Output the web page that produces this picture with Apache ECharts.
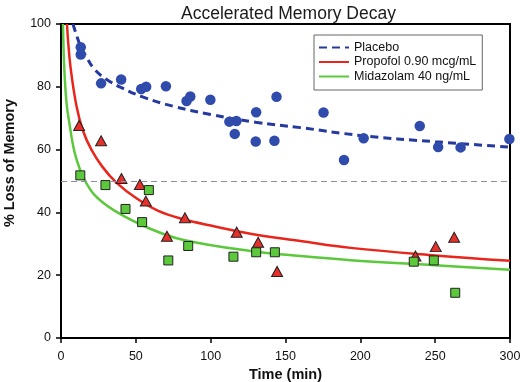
<!DOCTYPE html>
<html>
<head>
<meta charset="utf-8">
<script src="https://cdn.jsdelivr.net/npm/echarts@6/dist/echarts.min.js"></script>
<style>html,body{margin:0;padding:0;background:#fff}#c{width:520px;height:382px}</style>
</head>
<body>
<div id="c"></div>
<script>
// Observed data (time in min, % loss of memory)
var placeboT = [13.2, 13.2, 26.8, 40.2, 53.6, 56.9, 70.1, 83.9, 86.4, 99.8, 112.5, 117.2, 116.1, 130.4, 130.1, 142.6, 144.0, 175.4, 189.1, 202.2, 239.7, 252.0, 267.0, 299.6];
var placeboV = [92.6, 90.3, 81.1, 82.3, 79.3, 80.0, 80.2, 75.5, 76.9, 75.9, 68.9, 69.1, 65.0, 71.9, 62.6, 62.8, 76.8, 71.8, 56.7, 63.6, 67.5, 60.8, 60.7, 63.4];
var propofolT = [12.1, 26.8, 40.4, 52.7, 56.7, 70.8, 82.8, 117.4, 131.7, 144.4, 236.8, 250.4, 262.7];
var propofolV = [67.7, 62.8, 50.8, 48.9, 43.6, 32.4, 38.3, 33.7, 30.5, 21.2, 26.1, 29.1, 32.1];
var midazolamT = [12.9, 29.7, 58.7, 43.1, 54.2, 71.7, 85.0, 115.2, 130.4, 142.9, 235.7, 249.1, 263.4];
var midazolamV = [51.8, 48.7, 47.1, 41.1, 36.9, 24.7, 29.3, 25.9, 27.3, 27.3, 24.3, 24.7, 14.4];

// Fitted curves
var placeboFitT = [8, 10, 13, 17, 22.5, 30, 40, 55, 75, 100, 130, 160, 200, 250, 300];
var placeboFitV = [100, 97, 93, 89.5, 85.5, 82.5, 79.8, 76.7, 73.8, 71.2, 68.7, 67, 64.5, 62.5, 60.8];
var propofolFitT = [4, 5, 6.7, 10.3, 14.7, 20.3, 27.7, 37, 50.4, 65, 82, 100, 126.6, 160, 193.5, 250, 300];
var propofolFitV = [100, 93, 85, 74, 66, 60, 54.5, 49.5, 44.5, 40.5, 37.8, 35.8, 33.2, 30.9, 28.7, 26.3, 24.6];
var midazolamFitT = [1.3, 2, 3, 4, 5.4, 8, 10, 14.7, 22.5, 36, 59.6, 82, 126.6, 160, 193.5, 250, 300];
var midazolamFitV = [100, 88, 79, 73.5, 69, 61.5, 57.5, 51.4, 45.5, 40.5, 34.8, 31.2, 27.7, 26.1, 24.8, 23.2, 21.7];

var refLineY = 50;
var xTicks = [0, 50, 100, 150, 200, 250, 300];
var yTicks = [0, 20, 40, 60, 80, 100];

function pairs(t, v) { return t.map(function (x, i) { return [x, v[i]]; }); }

var FONT = 'Liberation Sans, Arial, sans-serif';
var chart = echarts.init(document.getElementById('c'), null, {renderer: 'canvas'});
chart.setOption({
  animation: false,
  backgroundColor: '#fff',
  title: {
    text: 'Accelerated Memory Decay',
    left: 176, top: 0,
    textStyle: {fontFamily: FONT, fontSize: 17.5, fontWeight: 'normal', color: '#1a1a1a'}
  },
  grid: {left: 61, right: 10, top: 24, bottom: 44, show: true, borderColor: '#000', borderWidth: 2,
    containLabel: false, outerBoundsMode: 'none'},
  legend: {
    orient: 'vertical', left: 314, top: 35,
    borderColor: '#666', borderWidth: 1, padding: [6, 6, 7, 4],
    itemWidth: 30, itemHeight: 14, itemGap: 1.5, itemTextGap: 7,
    itemStyle: {opacity: 0},
    data: ['Placebo', 'Propofol 0.90 mcg/mL', 'Midazolam 40 ng/mL'],
    textStyle: {fontFamily: FONT, fontSize: 12.5, color: '#111'}
  },
  xAxis: {
    type: 'value', min: xTicks[0], max: xTicks[xTicks.length - 1], interval: 50,
    name: 'Time (min)', nameLocation: 'middle', nameGap: 16,
    nameTextStyle: {fontFamily: FONT, fontSize: 14.5, fontWeight: 'bold', color: '#111'},
    axisLine: {lineStyle: {color: '#000', width: 2}},
    axisTick: {length: 5, lineStyle: {color: '#000', width: 1.5}},
    axisLabel: {fontFamily: FONT, fontSize: 12.5, color: '#111', margin: 12},
    splitLine: {show: false}
  },
  yAxis: {
    type: 'value', min: yTicks[0], max: yTicks[yTicks.length - 1], interval: 20,
    axisLine: {show: true, lineStyle: {color: '#000', width: 2}},
    axisTick: {show: true, length: 5, lineStyle: {color: '#000', width: 1.5}},
    axisLabel: {fontFamily: FONT, fontSize: 12.5, color: '#111', margin: 10},
    splitLine: {show: false}
  },
  graphic: [{
    type: 'text', x: 10, y: 163, rotation: Math.PI / 2,
    style: {text: '% Loss of Memory', fontFamily: FONT, fontSize: 14.5, fontWeight: 'bold',
      fill: '#111', textAlign: 'center', textVerticalAlign: 'middle'}
  }],
  series: [
    {
      name: 'ref', type: 'line', silent: true, symbol: 'none', data: [],
      markLine: {silent: true, symbol: 'none', label: {show: false},
        lineStyle: {color: '#8c8ca6', width: 1, type: [6, 4]},
        data: [{yAxis: refLineY}]}, z: 1
    },
    {
      name: 'Placebo', type: 'line', smooth: 0.4, symbol: 'none', clip: true,
      data: pairs(placeboFitT, placeboFitV),
      lineStyle: {color: '#25399e', width: 3, type: [8, 5]}, itemStyle: {color: '#25399e'}, z: 2
    },
    {
      name: 'Propofol 0.90 mcg/mL', type: 'line', smooth: 0.4, symbol: 'none', clip: true,
      data: pairs(propofolFitT, propofolFitV),
      lineStyle: {color: '#e8261c', width: 2.5}, itemStyle: {color: '#e8261c'}, z: 2
    },
    {
      name: 'Midazolam 40 ng/mL', type: 'line', smooth: 0.4, symbol: 'none', clip: true,
      data: pairs(midazolamFitT, midazolamFitV),
      lineStyle: {color: '#5cc83c', width: 2.5}, itemStyle: {color: '#5cc83c'}, z: 2
    },
    {
      name: 'placeboPts', type: 'scatter', symbol: 'circle', symbolSize: 10.5,
      data: pairs(placeboT, placeboV),
      itemStyle: {color: '#2f4bab', opacity: 1}, z: 3
    },
    {
      name: 'propofolPts', type: 'scatter', symbol: 'triangle', symbolSize: [11, 10],
      data: pairs(propofolT, propofolV),
      itemStyle: {color: '#e8302a', borderColor: '#222', borderWidth: 1, opacity: 1}, z: 4
    },
    {
      name: 'midazolamPts', type: 'scatter', symbol: 'rect', symbolSize: 9,
      data: pairs(midazolamT, midazolamV),
      itemStyle: {color: '#5cc83c', borderColor: '#222', borderWidth: 1, opacity: 1}, z: 5
    }
  ]
});
</script>
</body>
</html>
